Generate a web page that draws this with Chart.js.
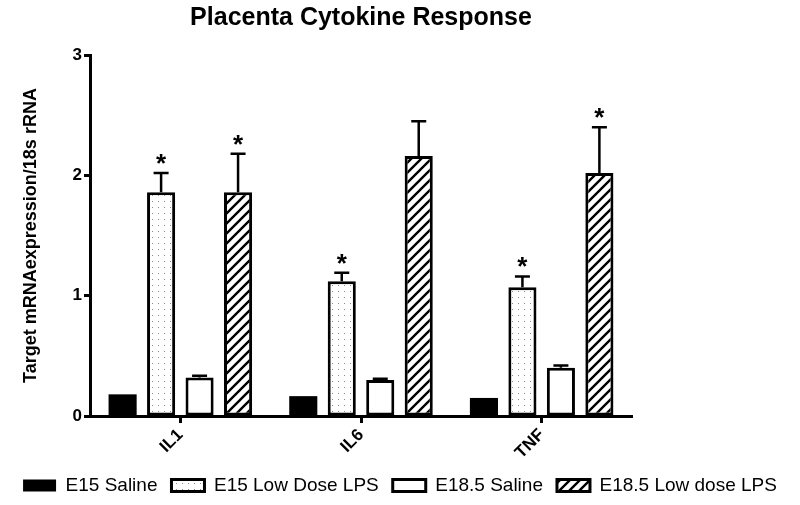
<!DOCTYPE html>
<html>
<head>
<meta charset="utf-8">
<script src="https://cdn.jsdelivr.net/npm/chart.js@4.4.1/dist/chart.umd.min.js"></script>
<style>
  html, body { margin: 0; padding: 0; background: #fff; }
  #wrap { width: 800px; height: 505px; position: relative; }
</style>
</head>
<body>
<div id="wrap"><canvas id="chart"></canvas></div>
<script>
const categories = ["IL1", "IL6", "TNF"];
const seriesNames = ["E15 Saline", "E15 Low Dose LPS", "E18.5 Saline", "E18.5 Low dose LPS"];

const e15Saline = [0.18, 0.165, 0.15];
const e15LowDose = [1.86, 1.12, 1.07];
const e18Saline = [0.32, 0.30, 0.40];
const e18LowDose = [1.86, 2.16, 2.02];

const e15SalineErr = [0, 0, 0];
const e15LowDoseErr = [0.16, 0.07, 0.09];
const e18SalineErr = [0.015, 0.01, 0.02];
const e18LowDoseErr = [0.32, 0.29, 0.38];

const e15LowDoseSig = [true, true, true];
const e18LowDoseSig = [true, false, true];

const yTicks = [0, 1, 2, 3];

// fill patterns
function dotPattern() {
  const c = document.createElement("canvas");
  c.width = 6; c.height = 6;
  const g = c.getContext("2d");
  g.fillStyle = "#fff";
  g.fillRect(0, 0, 6, 6);
  g.fillStyle = "#8a8a8a";
  g.fillRect(2, 3, 1, 1);
  return g.createPattern(c, "repeat");
}

function hatchPattern() {
  const s = 10;
  const c = document.createElement("canvas");
  c.width = s; c.height = s;
  const g = c.getContext("2d");
  g.fillStyle = "#fff";
  g.fillRect(0, 0, s, s);
  g.strokeStyle = "#000";
  g.lineWidth = 2.4;
  g.beginPath();
  g.moveTo(-2, s + 2); g.lineTo(s + 2, -2);
  g.moveTo(-2, 2); g.lineTo(2, -2);
  g.moveTo(s - 2, s + 2); g.lineTo(s + 2, s - 2);
  g.stroke();
  return g.createPattern(c, "repeat");
}

const errors = [e15SalineErr, e15LowDoseErr, e18SalineErr, e18LowDoseErr];
const sigs = [null, e15LowDoseSig, null, e18LowDoseSig];

const errorBars = {
  id: "errorBars",
  afterDatasetsDraw(chart) {
    const { ctx } = chart;
    const y = chart.scales.y;
    ctx.save();
    ctx.strokeStyle = "#000";
    ctx.fillStyle = "#000";
    ctx.lineWidth = 2.5;
    chart.data.datasets.forEach((ds, i) => {
      const meta = chart.getDatasetMeta(i);
      meta.data.forEach((bar, j) => {
        const err = errors[i][j];
        const top = y.getPixelForValue(ds.data[j] + err);
        if (err > 0) {
          ctx.beginPath();
          ctx.moveTo(bar.x, bar.y);
          ctx.lineTo(bar.x, top);
          ctx.moveTo(bar.x - 7.5, top);
          ctx.lineTo(bar.x + 7.5, top);
          ctx.stroke();
        }
        if (sigs[i] && sigs[i][j]) {
          ctx.font = "bold 26px Arial, 'Liberation Sans'";
          ctx.textAlign = "center";
          ctx.textBaseline = "alphabetic";
          ctx.fillText("*", bar.x, top - 1);
        }
      });
    });
    ctx.restore();
  },
};

const plotTitle = {
  id: "plotTitle",
  afterDraw(chart) {
    const { ctx, chartArea } = chart;
    ctx.save();
    ctx.font = "bold 25px Arial, 'Liberation Sans'";
    ctx.fillStyle = "#000";
    ctx.textAlign = "center";
    ctx.textBaseline = "alphabetic";
    ctx.fillText("Placenta Cytokine Response", (chartArea.left + chartArea.right) / 2, 25);
    ctx.restore();
  },
};

const fills = ["#000", dotPattern(), "#fff", hatchPattern()];
const borders = [0, 3, 3, 3]; // solid black bar needs no outline (avoids seams)
const values = [e15Saline, e15LowDose, e18Saline, e18LowDose];

new Chart(document.getElementById("chart"), {
  type: "bar",
  data: {
    labels: categories,
    datasets: seriesNames.map((name, i) => ({
      label: name,
      data: values[i],
      backgroundColor: fills[i],
      borderColor: "#000",
      borderWidth: borders[i],
      borderSkipped: false,
      categoryPercentage: 0.852,
      barPercentage: 0.73,
    })),
  },
  options: {
    responsive: true,
    maintainAspectRatio: false,
    animation: false,
    layout: { padding: { top: 55, left: 0, right: 0, bottom: 0 } },
    plugins: {
      title: { display: false },
      tooltip: { enabled: false },
      legend: {
        position: "bottom",
        labels: {
          color: "#000",
          font: { family: "Arial, 'Liberation Sans'", size: 19 },
          boxWidth: 33,
          boxHeight: 12,
          padding: 14,
        },
      },
    },
    scales: {
      x: {
        grid: { display: true, drawOnChartArea: false, offset: false, tickLength: 7, tickWidth: 3, tickColor: "#000" },
        border: { display: true, width: 3, color: "#000" },
        ticks: {
          color: "#000",
          font: { family: "Arial, 'Liberation Sans'", size: 17, weight: "bold" },
          maxRotation: 45,
          minRotation: 45,
          padding: 2,
        },
        afterFit: (s) => { s.height = 46; },
      },
      y: {
        min: 0,
        max: 3,
        afterBuildTicks: (s) => { s.ticks = yTicks.map((v) => ({ value: v })); },
        grid: { display: true, drawOnChartArea: false, tickLength: 6, tickWidth: 3, tickColor: "#000" },
        border: { display: true, width: 3, color: "#000" },
        ticks: {
          color: "#000",
          font: { family: "Arial, 'Liberation Sans'", size: 17, weight: "bold" },
          padding: 2,
        },
        title: {
          display: true,
          text: "Target mRNAexpression/18s rRNA",
          color: "#000",
          font: { family: "Arial, 'Liberation Sans'", size: 18, weight: "bold" },
          padding: { top: 20, bottom: 0 },
        },
        afterFit: (s) => { s.width = 90; },
      },
      yR: {
        position: "right",
        display: true,
        grid: { display: false },
        border: { display: false },
        ticks: { display: false },
        afterFit: (s) => { s.width = 168; },
      },
    },
  },
  plugins: [errorBars, plotTitle],
});
</script>
</body>
</html>
